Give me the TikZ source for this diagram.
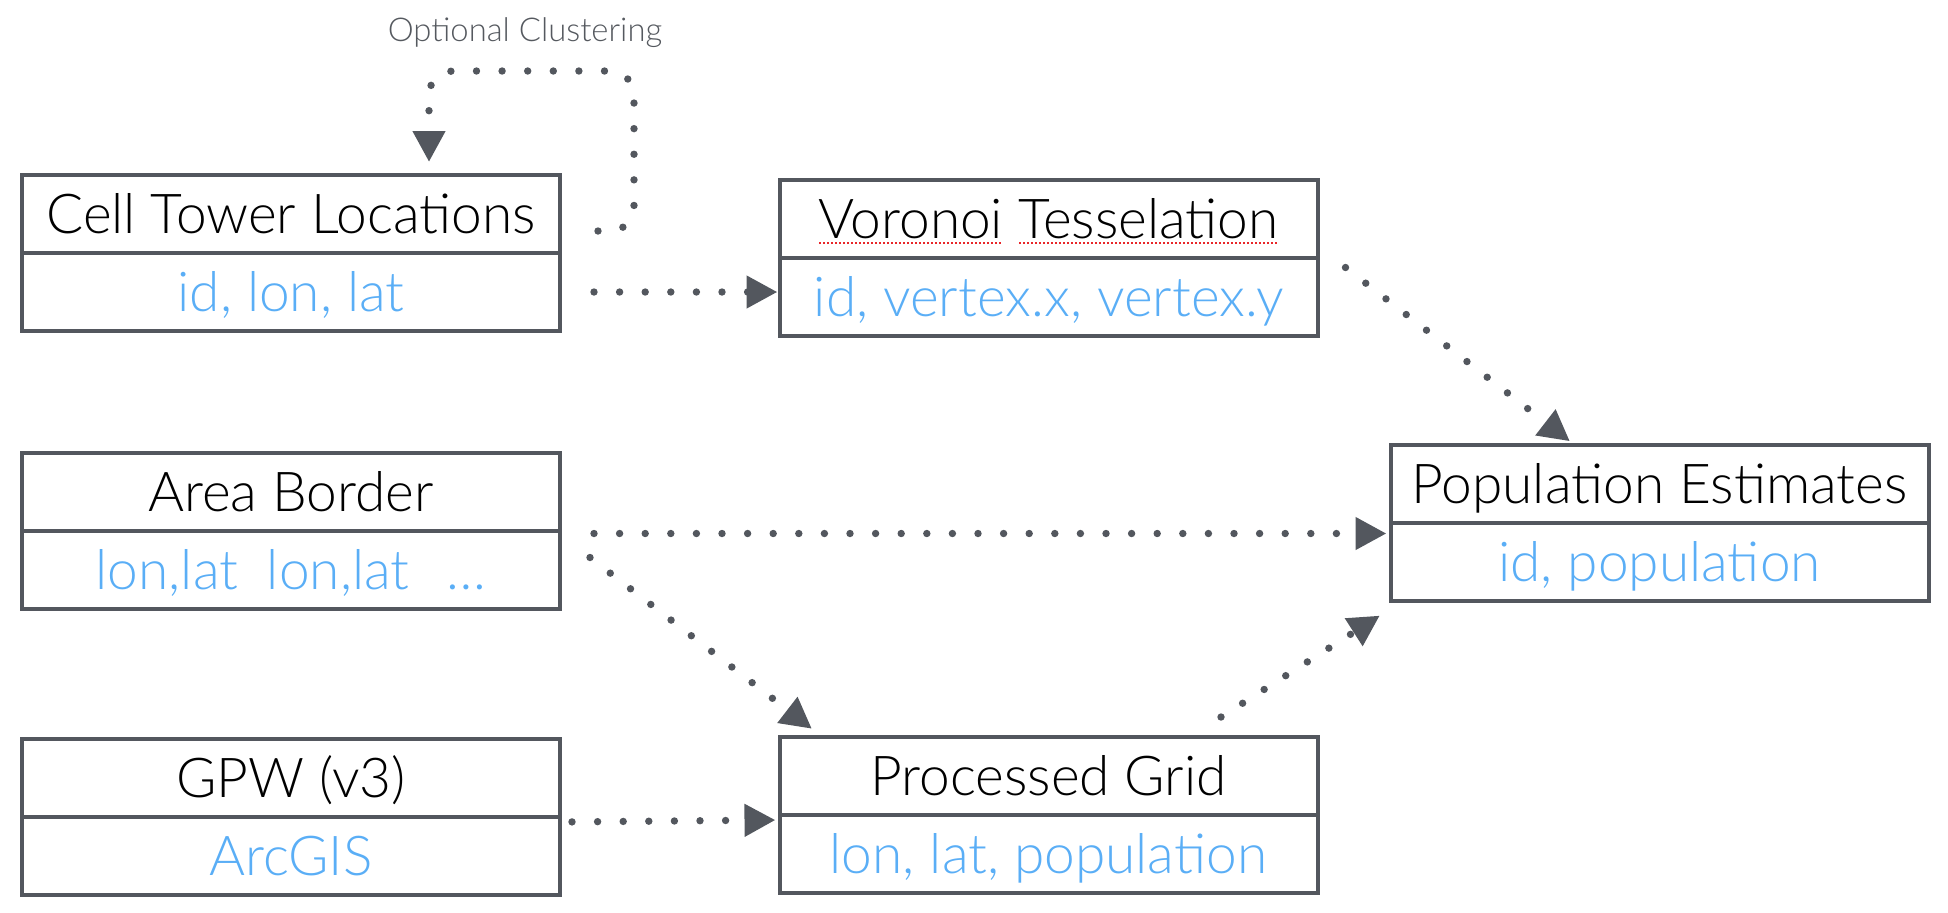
\documentclass[tikz,border=0pt]{standalone}
\usepackage{fontspec}
\setmainfont{Lato Light}
\usetikzlibrary{positioning,calc,arrows.meta}

\definecolor{edgegray}{HTML}{53575E}
\definecolor{fieldblue}{HTML}{5AAEF6}
\definecolor{notegray}{HTML}{55595F}
\definecolor{spellred}{HTML}{E8262A}

% dotted red spell-check mark under a word
\newlength{\spellwd}
\newcommand{\spellmark}[1]{\settowidth{\spellwd}{#1}%
  \rlap{\color{spellred}\raisebox{-3pt}{\leaders\hbox to 2pt{\hss\rule{1pt}{1pt}\hss}\hskip\spellwd}}#1}

\tikzset{
  boxtitle/.style={draw=edgegray, line width=2pt, minimum width=269pt, minimum height=39pt,
    inner sep=0pt, outer sep=0pt, text height=19.5pt, text depth=0pt, font=\fontsize{27.5}{32}\selectfont},
  boxfields/.style={boxtitle, text=fieldblue},
  flow/.style={draw=edgegray, line width=3.7pt, line cap=round, dash pattern=on 0pt off 12.8pt,
    shorten >=1pt, -{Triangle[length=15.5pt,width=15.5pt]}},
  clustnote/.style={text=notegray, font=\fontsize{16.4}{19}\selectfont},
}

\begin{document}
\begin{tikzpicture}[x=0.5pt,y=-0.5pt]
\useasboundingbox (0,0) rectangle (1948,912);

% left column
\node[boxtitle] (celltitle) at (291,214) {Cell Tower Locations};
\node[boxfields, below=0pt of celltitle] (cellfields) {id, lon, lat};
\node[boxtitle] (areatitle) at (291,491.5) {Area Border};
\node[boxfields, below=0pt of areatitle] (areafields) {lon,lat\hspace{0.25em} lon,lat\hspace{0.4em} …};
\node[boxtitle] (gpwtitle) at (291,778) {GPW (v3)};
\node[boxfields, below=0pt of gpwtitle] (gpwfields) {ArcGIS};

% middle column
\node[boxtitle] (vortitle) at (1048.5,218.5) {\spellmark{Voronoi} \spellmark{Tesselation}};
\node[boxfields, below=0pt of vortitle] (vorfields) {id, vertex.x, vertex.y};
\node[boxtitle] (gridtitle) at (1048.5,776) {Processed Grid};
\node[boxfields, below=0pt of gridtitle] (gridfields) {lon, lat, population};

% right column
\node[boxtitle] (poptitle) at (1659.5,483.5) {Population Estimates};
\node[boxfields, below=0pt of poptitle] (popfields) {id, population};

\node[clustnote] (clustlabel) at (525,33) {Optional Clustering};

% connectors
\draw[flow, rounded corners=12pt] ($(celltitle.east)+(38,17)$) -- ++(36,0)
  |- ($(celltitle.north)+(138,-104)$) -- ($(celltitle.north)+(138,-11)$);
\draw[flow, shorten <=17pt] (cellfields.east) -- (cellfields.east -| vorfields.west);
\draw[flow] ($(vorfields.north east)+(28,10)$) -- ($(poptitle.north west)+(181,-2)$);
\draw[flow] ($(areafields.north east)+(34,3)$) -- ($(popfields.north west)+(-2,11)$);
\draw[flow] ($(areafields.north east)+(30,27)$) -- ($(gridtitle.north west)+(34,-7)$);
\draw[flow, shorten <=6pt] (gpwfields.north east) ++(0,5) -- ($(gridfields.north west)+(-2,5)$);
\draw[flow] ($(gridtitle.north)+(172.5,-20)$) -- ($(popfields.south west)+(-9,14)$);
\end{tikzpicture}
\end{document}
